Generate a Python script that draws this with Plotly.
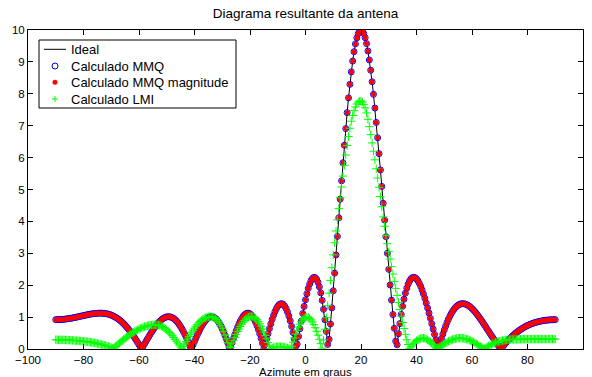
import plotly.graph_objects as go

# Azimuth grid (degrees), sampled every 0.5 degree from -90 to 90
azimute = [i * 0.5 for i in range(-180, 181)]

# Ideal pattern
ideal = [
    0.919, 0.920, 0.921, 0.923, 0.925, 0.930, 0.933, 0.939, 0.944, 0.951,
    0.957, 0.965, 0.972, 0.981, 0.989, 0.999, 1.008, 1.018, 1.028, 1.038,
    1.047, 1.057, 1.067, 1.076, 1.084, 1.093, 1.100, 1.107, 1.113, 1.117,
    1.121, 1.123, 1.124, 1.123, 1.120, 1.116, 1.110, 1.101, 1.090, 1.077,
    1.061, 1.043, 1.022, 0.997, 0.971, 0.940, 0.908, 0.872, 0.832, 0.790,
    0.744, 0.695, 0.644, 0.589, 0.531, 0.470, 0.408, 0.342, 0.274, 0.204,
    0.133, 0.060, 0.013, 0.088, 0.162, 0.237, 0.311, 0.385, 0.455, 0.525,
    0.592, 0.656, 0.716, 0.772, 0.823, 0.869, 0.910, 0.944, 0.972, 0.993,
    1.006, 1.012, 1.010, 1.000, 0.982, 0.955, 0.920, 0.877, 0.825, 0.766,
    0.700, 0.626, 0.546, 0.460, 0.369, 0.273, 0.174, 0.073, 0.030, 0.134,
    0.237, 0.338, 0.436, 0.530, 0.618, 0.701, 0.775, 0.841, 0.898, 0.944,
    0.979, 1.002, 1.012, 1.010, 0.994, 0.965, 0.923, 0.868, 0.801, 0.722,
    0.633, 0.533, 0.425, 0.309, 0.188, 0.062, 0.066, 0.195, 0.322, 0.447,
    0.565, 0.678, 0.781, 0.873, 0.953, 1.020, 1.070, 1.105, 1.122, 1.121,
    1.102, 1.064, 1.008, 0.933, 0.842, 0.735, 0.613, 0.478, 0.332, 0.177,
    0.016, 0.149, 0.315, 0.479, 0.638, 0.790, 0.931, 1.059, 1.171, 1.266,
    1.340, 1.390, 1.417, 1.419, 1.395, 1.344, 1.267, 1.163, 1.035, 0.883,
    0.709, 0.515, 0.305, 0.082, 0.153, 0.393, 0.636, 0.876, 1.112, 1.334,
    1.544, 1.733, 1.899, 2.036, 2.142, 2.213, 2.246, 2.237, 2.186, 2.090,
    1.947, 1.759, 1.524, 1.244, 0.918, 0.551, 0.142, 0.302, 0.783, 1.289,
    1.826, 2.378, 2.947, 3.529, 4.112, 4.696, 5.272, 5.839, 6.386, 6.909,
    7.409, 7.873, 8.297, 8.688, 9.027, 9.320, 9.565, 9.753, 9.888, 9.973,
    10.000, 9.972, 9.889, 9.758, 9.573, 9.342, 9.060, 8.739, 8.378, 7.983,
    7.553, 7.102, 6.621, 6.125, 5.613, 5.096, 4.568, 4.041, 3.519, 3.001,
    2.497, 2.007, 1.532, 1.080, 0.649, 0.247, 0.132, 0.479, 0.797, 1.083,
    1.337, 1.559, 1.750, 1.907, 2.034, 2.131, 2.197, 2.235, 2.247, 2.234,
    2.197, 2.139, 2.061, 1.965, 1.853, 1.728, 1.589, 1.442, 1.287, 1.127,
    0.960, 0.793, 0.624, 0.457, 0.291, 0.129, 0.030, 0.182, 0.328, 0.466,
    0.596, 0.717, 0.830, 0.933, 1.026, 1.109, 1.182, 1.244, 1.297, 1.340,
    1.375, 1.398, 1.414, 1.421, 1.420, 1.411, 1.394, 1.372, 1.343, 1.308,
    1.268, 1.224, 1.175, 1.122, 1.065, 1.007, 0.946, 0.883, 0.818, 0.753,
    0.686, 0.620, 0.553, 0.487, 0.421, 0.356, 0.292, 0.228, 0.165, 0.105,
    0.045, 0.012, 0.068, 0.121, 0.173, 0.222, 0.271, 0.316, 0.360, 0.401,
    0.442, 0.479, 0.515, 0.548, 0.581, 0.611, 0.639, 0.665, 0.691, 0.714,
    0.736, 0.755, 0.774, 0.791, 0.808, 0.822, 0.836, 0.848, 0.859, 0.869,
    0.878, 0.886, 0.894, 0.899, 0.906, 0.909, 0.913, 0.915, 0.918, 0.919,
    0.920,
]

# The two MMQ results coincide with the ideal curve in the picture
calculado_mmq = list(ideal)
calculado_mmq_magnitude = list(ideal)

# LMI result
calculado_lmi = [
    0.290, 0.290, 0.289, 0.288, 0.287, 0.286, 0.285, 0.283, 0.281, 0.279,
    0.277, 0.274, 0.271, 0.268, 0.265, 0.262, 0.258, 0.254, 0.250, 0.246,
    0.242, 0.237, 0.232, 0.226, 0.220, 0.213, 0.206, 0.198, 0.190, 0.181,
    0.172, 0.162, 0.152, 0.141, 0.130, 0.118, 0.106, 0.093, 0.080, 0.062,
    0.042, 0.018, 0.038, 0.077, 0.115, 0.153, 0.190, 0.227, 0.264, 0.300,
    0.334, 0.368, 0.402, 0.434, 0.465, 0.495, 0.523, 0.551, 0.577, 0.601,
    0.624, 0.645, 0.665, 0.683, 0.699, 0.713, 0.725, 0.736, 0.744, 0.751,
    0.756, 0.759, 0.760, 0.757, 0.750, 0.737, 0.719, 0.696, 0.668, 0.636,
    0.600, 0.559, 0.514, 0.467, 0.416, 0.361, 0.305, 0.246, 0.186, 0.125,
    0.062, 0.008, 0.079, 0.158, 0.236, 0.312, 0.387, 0.459, 0.528, 0.594,
    0.656, 0.714, 0.768, 0.817, 0.861, 0.900, 0.933, 0.961, 0.982, 0.998,
    1.007, 1.010, 1.008, 1.000, 0.990, 0.960, 0.920, 0.870, 0.810, 0.730,
    0.650, 0.550, 0.440, 0.320, 0.200, 0.070, 0.050, 0.164, 0.264, 0.362,
    0.456, 0.545, 0.629, 0.706, 0.777, 0.840, 0.894, 0.938, 0.974, 1.000,
    1.015, 1.020, 1.013, 0.994, 0.961, 0.916, 0.859, 0.791, 0.712, 0.625,
    0.529, 0.428, 0.320, 0.207, 0.092, 0.010, 0.030, 0.045, 0.058, 0.067,
    0.072, 0.074, 0.073, 0.069, 0.062, 0.053, 0.042, 0.030, 0.017, 0.005,
    0.081, 0.215, 0.345, 0.468, 0.584, 0.687, 0.779, 0.856, 0.918, 0.964,
    0.991, 1.000, 0.990, 0.961, 0.913, 0.847, 0.764, 0.666, 0.555, 0.434,
    0.304, 0.167, 0.028, 0.280, 0.620, 0.980, 1.360, 1.750, 2.150, 2.550,
    2.950, 3.330, 3.700, 4.050, 4.400, 4.740, 5.080, 5.420, 5.760, 6.080,
    6.380, 6.660, 6.920, 7.140, 7.320, 7.470, 7.590, 7.680, 7.740, 7.770,
    7.770, 7.740, 7.670, 7.560, 7.400, 7.200, 6.970, 6.720, 6.460, 6.200,
    5.930, 5.650, 5.360, 5.070, 4.780, 4.460, 4.140, 3.850, 3.560, 3.300,
    3.050, 2.820, 2.580, 2.350, 2.120, 1.900, 1.680, 1.460, 1.240, 1.030,
    0.830, 0.640, 0.460, 0.290, 0.140, 0.020, 0.070, 0.130, 0.180, 0.220,
    0.260, 0.290, 0.310, 0.330, 0.340, 0.340, 0.330, 0.310, 0.290, 0.260,
    0.220, 0.180, 0.140, 0.090, 0.040, 0.010, 0.040, 0.070, 0.100, 0.130,
    0.160, 0.190, 0.210, 0.240, 0.260, 0.280, 0.300, 0.310, 0.320, 0.330,
    0.340, 0.340, 0.340, 0.340, 0.330, 0.320, 0.310, 0.300, 0.280, 0.260,
    0.240, 0.220, 0.190, 0.170, 0.140, 0.110, 0.080, 0.050, 0.020, 0.010,
    0.040, 0.070, 0.095, 0.120, 0.145, 0.165, 0.185, 0.205, 0.220, 0.235,
    0.245, 0.255, 0.265, 0.273, 0.280, 0.285, 0.290, 0.294, 0.297, 0.299,
    0.300, 0.301, 0.302, 0.303, 0.304, 0.305, 0.306, 0.306, 0.307, 0.307,
    0.308, 0.308, 0.308, 0.309, 0.309, 0.309, 0.309, 0.310, 0.310, 0.310,
    0.310, 0.310, 0.310, 0.310, 0.310, 0.310, 0.310, 0.310, 0.310, 0.310,
    0.310,
]

series_names = ["Ideal", "Calculado MMQ", "Calculado MMQ magnitude",
                "Calculado LMI"]

FONT = "Liberation Sans, Arial, Helvetica, sans-serif"
BLUE, RED, GREEN = "#0000ff", "#ff0000", "#00ff00"

# figure geometry (pixels)
W, H = 592, 377
ML, MR, MT, MB = 28, 9, 30, 28
PW, PH = W - ML - MR, H - MT - MB


def px(xp):
    return (xp - ML) / PW


def py(yp):
    return (H - MB - yp) / PH


fig = go.Figure()
fig.add_trace(go.Scatter(
    x=azimute, y=ideal, mode="lines", name=series_names[0],
    line=dict(color="black", width=1),
))
fig.add_trace(go.Scatter(
    x=azimute, y=calculado_mmq, mode="markers", name=series_names[1],
    marker=dict(symbol="circle-open", size=6, color=BLUE,
                line=dict(width=1, color=BLUE)),
))
fig.add_trace(go.Scatter(
    x=azimute, y=calculado_mmq_magnitude, mode="markers",
    name=series_names[2],
    marker=dict(symbol="circle", size=5, color=RED, line=dict(width=0)),
))
fig.add_trace(go.Scatter(
    x=azimute, y=calculado_lmi, mode="markers", name=series_names[3],
    marker=dict(symbol="cross-thin", size=6, color=GREEN,
                line=dict(width=1, color=GREEN)),
))

axis_common = dict(
    showline=True, linecolor="black", linewidth=1, mirror="ticks",
    ticks="inside", ticklen=5, tickcolor="black", tickwidth=1,
    showgrid=False, zeroline=False,
    tickfont=dict(family=FONT, size=11.5, color="black"),
)

# Legend box drawn in the MATLAB style (compact rows)
row_y = [49.3, 66.0, 82.3, 99.0]
sym_x = 55.0
shapes = [
    dict(type="rect", xref="paper", yref="paper",
         x0=px(39), x1=px(236), y0=py(108), y1=py(40),
         line=dict(color="black", width=1), fillcolor="white", layer="above"),
    dict(type="line", xref="paper", yref="paper",
         x0=px(44), x1=px(66), y0=py(row_y[0]), y1=py(row_y[0]),
         line=dict(color="black", width=1), layer="above"),
    dict(type="circle", xref="paper", yref="paper",
         x0=px(sym_x - 3), x1=px(sym_x + 3),
         y0=py(row_y[1] + 3), y1=py(row_y[1] - 3),
         line=dict(color=BLUE, width=1), layer="above"),
    dict(type="circle", xref="paper", yref="paper",
         x0=px(sym_x - 2.5), x1=px(sym_x + 2.5),
         y0=py(row_y[2] + 2.5), y1=py(row_y[2] - 2.5),
         line=dict(color=RED, width=0), fillcolor=RED, layer="above"),
    dict(type="line", xref="paper", yref="paper",
         x0=px(sym_x - 3), x1=px(sym_x + 3),
         y0=py(row_y[3]), y1=py(row_y[3]),
         line=dict(color=GREEN, width=1), layer="above"),
    dict(type="line", xref="paper", yref="paper",
         x0=px(sym_x), x1=px(sym_x),
         y0=py(row_y[3] + 3), y1=py(row_y[3] - 3),
         line=dict(color=GREEN, width=1), layer="above"),
]

annotations = [
    dict(text=name, x=px(69), y=py(yy), xref="paper", yref="paper",
         xanchor="left", yanchor="middle", showarrow=False,
         font=dict(family=FONT, size=13, color="black"))
    for name, yy in zip(series_names, row_y)
]
annotations.append(
    dict(text="Azimute em graus", x=0.5, xref="paper",
         y=py(372), yref="paper", xanchor="center", yanchor="middle",
         showarrow=False, font=dict(family=FONT, size=11.5, color="black")))

fig.update_layout(
    width=W, height=H,
    margin=dict(l=ML, r=MR, t=MT, b=MB),
    paper_bgcolor="white", plot_bgcolor="white",
    font=dict(family=FONT, color="black"),
    title=dict(text="Diagrama resultante da antena",
               x=0.5, xref="paper", xanchor="center",
               y=1 - 13 / H, yref="container", yanchor="middle",
               font=dict(family=FONT, size=13.5, color="black")),
    xaxis=dict(range=[-100, 100], tick0=-100, dtick=20, ticklabelstandoff=0,
               **axis_common),
    yaxis=dict(range=[0, 10], tick0=0, dtick=1, **axis_common),
    showlegend=False,
    shapes=shapes,
    annotations=annotations,
)
fig.update_xaxes(automargin=False)
fig.update_yaxes(automargin=False)

fig.write_html("out.html", config={"displayModeBar": False},
               post_script="document.body.style.margin='0';")
